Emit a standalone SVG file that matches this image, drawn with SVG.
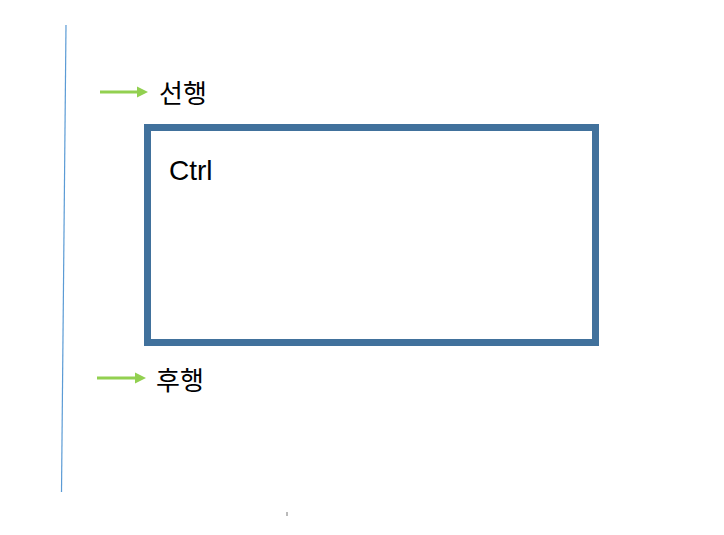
<svg xmlns="http://www.w3.org/2000/svg" width="724" height="535" viewBox="0 0 724 535">
<style>
.lbl{font-family:"Noto Sans CJK KR","Noto Sans",sans-serif;font-size:26px;fill:#000}
.arr{stroke:#92D050;stroke-width:3;fill:none}
.head{fill:#92D050}
</style>
<rect width="724" height="535" fill="#fff"/>
<g id="timeline">
<line x1="66" y1="25" x2="61.5" y2="492" stroke="#5B9BD5" stroke-width="1.2"/>
</g>
<g id="ctrl">
<rect x="147.5" y="127.5" width="448" height="215" fill="none" stroke="#41719C" stroke-width="7"/>
<text x="169" y="179.5" font-family="Liberation Sans, Arial, sans-serif" font-size="28" fill="#000">Ctrl</text>
</g>
<g id="connectors">
<line class="arr" x1="100" y1="92" x2="138" y2="92"/>
<polygon class="head" points="137,86.5 148,92 137,97.5"/>
<line class="arr" x1="97" y1="378" x2="136" y2="378"/>
<polygon class="head" points="135,372.5 146,378 135,383.5"/>
</g>
<g id="pre">
<text class="lbl" x="159" y="102.5">선행</text>
</g>
<g id="post">
<text class="lbl" x="156" y="389.5">후행</text>
</g>
<line x1="287" y1="512" x2="287" y2="516" stroke="#777" stroke-width="1"/>
</svg>
